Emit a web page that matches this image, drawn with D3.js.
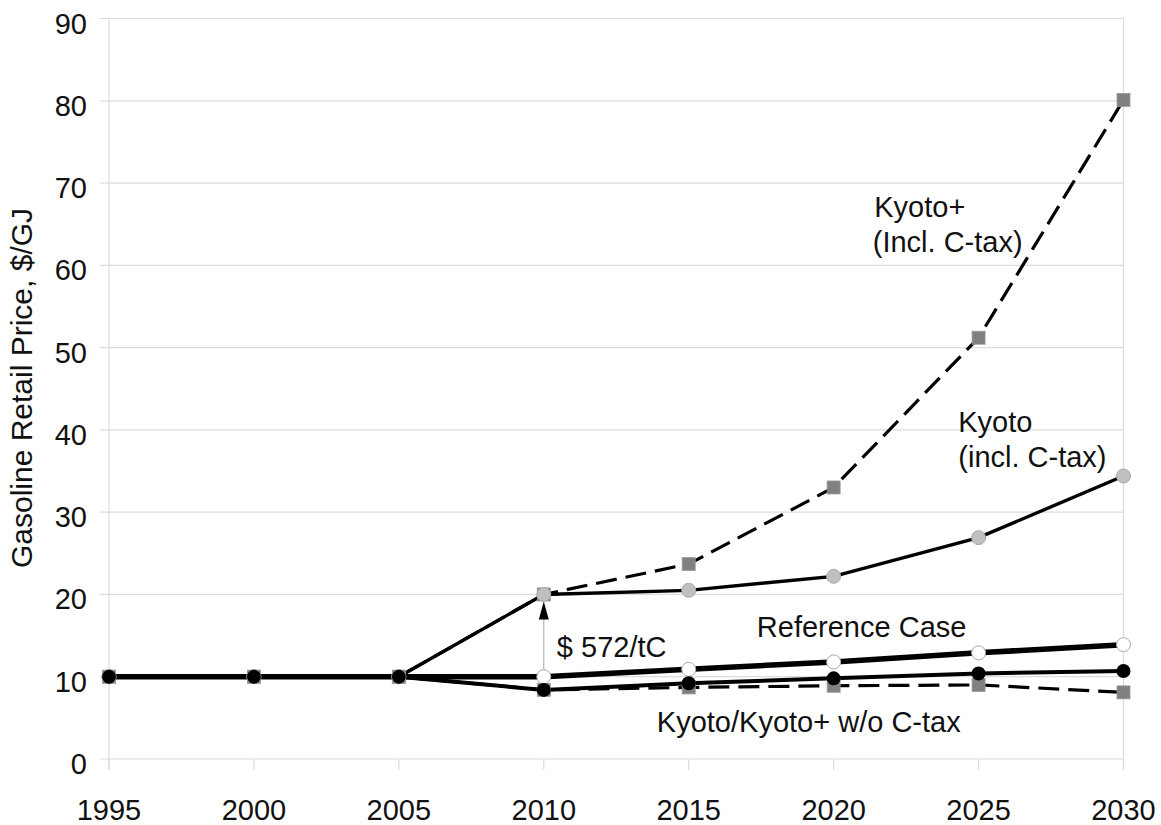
<!DOCTYPE html>
<html><head><meta charset="utf-8">
<script src="https://cdn.jsdelivr.net/npm/d3@7"></script>
<style>
html,body{margin:0;padding:0;background:#fff;}
text{font-family:"Liberation Sans",Arial,sans-serif;fill:#111;}
</style></head>
<body><svg id="c" width="1161" height="825"></svg>
<script>
const years = [1995, 2000, 2005, 2010, 2015, 2020, 2025, 2030];
const yTicks = [0, 10, 20, 30, 40, 50, 60, 70, 80, 90];
const kyotoPlusTax = [10, 10, 10, 20, 23.7, 33.0, 51.2, 80.1];
const kyotoTax     = [10, 10, 10, 20, 20.5, 22.2, 26.9, 34.4];
const referenceCase = [10, 10, 10, 10.0, 10.9, 11.8, 12.9, 13.9];
const kyotoNoTax    = [10, 10, 10, 8.4, 9.2, 9.8, 10.4, 10.7];
const kyotoPlusNoTax = [10, 10, 10, 8.4, 8.7, 8.9, 9.0, 8.1];
const labels = [
  {t:"Kyoto+", x:2021.4, y:65.9},
  {t:"(Incl. C-tax)", x:2021.35, y:61.6},
  {t:"Kyoto", x:2024.3, y:39.7},
  {t:"(incl. C-tax)", x:2024.3, y:35.5},
  {t:"Reference Case", x:2017.35, y:14.8},
  {t:"$ 572/tC", x:2010.45, y:12.4},
  {t:"Kyoto/Kyoto+ w/o C-tax", x:2013.9, y:3.3}
];
const arrowFrom = 10, arrowTo = 20, arrowYear = 2010;

const svg = d3.select("#c");
const x = d3.scaleLinear().domain([1995, 2030]).range([109, 1123.5]);
const y = d3.scaleLinear().domain([0, 90]).range([759, 18.5]);

// grid
svg.append("g").selectAll("line").data(yTicks).join("line")
  .attr("x1", 100).attr("x2", x(2030)).attr("y1", d => y(d)).attr("y2", d => y(d))
  .attr("stroke", "#dcdcdc").attr("stroke-width", 1.2);
// left axis & right border
svg.append("line").attr("x1", x(1995)).attr("x2", x(1995)).attr("y1", y(90)).attr("y2", y(0) + 11)
  .attr("stroke", "#dcdcdc").attr("stroke-width", 1.2);
svg.append("line").attr("x1", x(2030)).attr("x2", x(2030)).attr("y1", y(90)).attr("y2", y(0) + 11)
  .attr("stroke", "#dcdcdc").attr("stroke-width", 1.2);
// x ticks
svg.append("g").selectAll("line").data(years).join("line")
  .attr("x1", d => x(d)).attr("x2", d => x(d)).attr("y1", y(0)).attr("y2", y(0) + 11)
  .attr("stroke", "#dcdcdc").attr("stroke-width", 1.2);

// tick labels
svg.append("g").selectAll("text").data(yTicks).join("text")
  .attr("x", 87).attr("y", d => y(d) + 15).attr("text-anchor", "end")
  .attr("font-size", 29).text(d => d);
svg.append("g").selectAll("text").data(years).join("text")
  .attr("x", d => x(d)).attr("y", 820).attr("text-anchor", "middle")
  .attr("font-size", 29).text(d => d);

// y title
svg.append("text").attr("transform", `translate(32,${388}) rotate(-90)`)
  .attr("text-anchor", "middle").attr("font-size", 30)
  .text("Gasoline Retail Price, $/GJ");

const line = d3.line().x((d, i) => x(years[i])).y(d => y(d));

// Kyoto+ incl C-tax dashed
svg.append("path").datum(kyotoPlusTax).attr("d", line).attr("fill", "none")
  .attr("stroke", "#000").attr("stroke-width", 3.2).attr("stroke-dasharray", "21,9");
// Kyoto+ w/o C-tax dashed
svg.append("path").datum(kyotoPlusNoTax).attr("d", line).attr("fill", "none")
  .attr("stroke", "#000").attr("stroke-width", 3.2).attr("stroke-dasharray", "21,9");
// Kyoto incl C-tax
svg.append("path").datum(kyotoTax).attr("d", line).attr("fill", "none")
  .attr("stroke", "#000").attr("stroke-width", 3.4);

// arrow
svg.append("line").attr("x1", x(arrowYear)).attr("x2", x(arrowYear))
  .attr("y1", y(arrowFrom) - 7).attr("y2", y(arrowTo) + 18)
  .attr("stroke", "#aaa").attr("stroke-width", 1);
{
  const ax = x(arrowYear), ay = y(arrowTo) + 7;
  svg.append("path").attr("d", `M${ax},${ay} L${ax - 5},${ay + 18} L${ax + 5},${ay + 18} Z`).attr("fill", "#000");
}

// Reference
svg.append("path").datum(referenceCase).attr("d", line).attr("fill", "none")
  .attr("stroke", "#000").attr("stroke-width", 5.5);
// Kyoto w/o
svg.append("path").datum(kyotoNoTax).attr("d", line).attr("fill", "none")
  .attr("stroke", "#000").attr("stroke-width", 4);

// markers
const sq = 13;
svg.append("g").selectAll("rect").data(kyotoPlusTax).join("rect")
  .attr("x", (d, i) => x(years[i]) - sq / 2).attr("y", d => y(d) - sq / 2)
  .attr("width", sq).attr("height", sq).attr("fill", "#808080").attr("stroke", "#999").attr("stroke-width", 0.8);
svg.append("g").selectAll("rect").data(kyotoPlusNoTax).join("rect")
  .attr("x", (d, i) => x(years[i]) - sq / 2).attr("y", d => y(d) - sq / 2)
  .attr("width", sq).attr("height", sq).attr("fill", "#808080").attr("stroke", "#999").attr("stroke-width", 0.8);
svg.append("g").selectAll("circle").data(kyotoTax).join("circle")
  .attr("cx", (d, i) => x(years[i])).attr("cy", d => y(d)).attr("r", 7)
  .attr("fill", "#c0c0c0").attr("stroke", "#a8a8a8").attr("stroke-width", 1);
svg.append("g").selectAll("circle").data(referenceCase).join("circle")
  .attr("cx", (d, i) => x(years[i])).attr("cy", d => y(d)).attr("r", 7)
  .attr("fill", "#fff").attr("stroke", "#aaa").attr("stroke-width", 1);
svg.append("g").selectAll("circle").data(kyotoNoTax).join("circle")
  .attr("cx", (d, i) => x(years[i])).attr("cy", d => y(d)).attr("r", 7)
  .attr("fill", "#000");

// labels
svg.append("g").selectAll("text").data(labels).join("text")
  .attr("x", d => x(d.x)).attr("y", d => y(d.y)).attr("font-size", 29).text(d => d.t);
</script></body></html>
